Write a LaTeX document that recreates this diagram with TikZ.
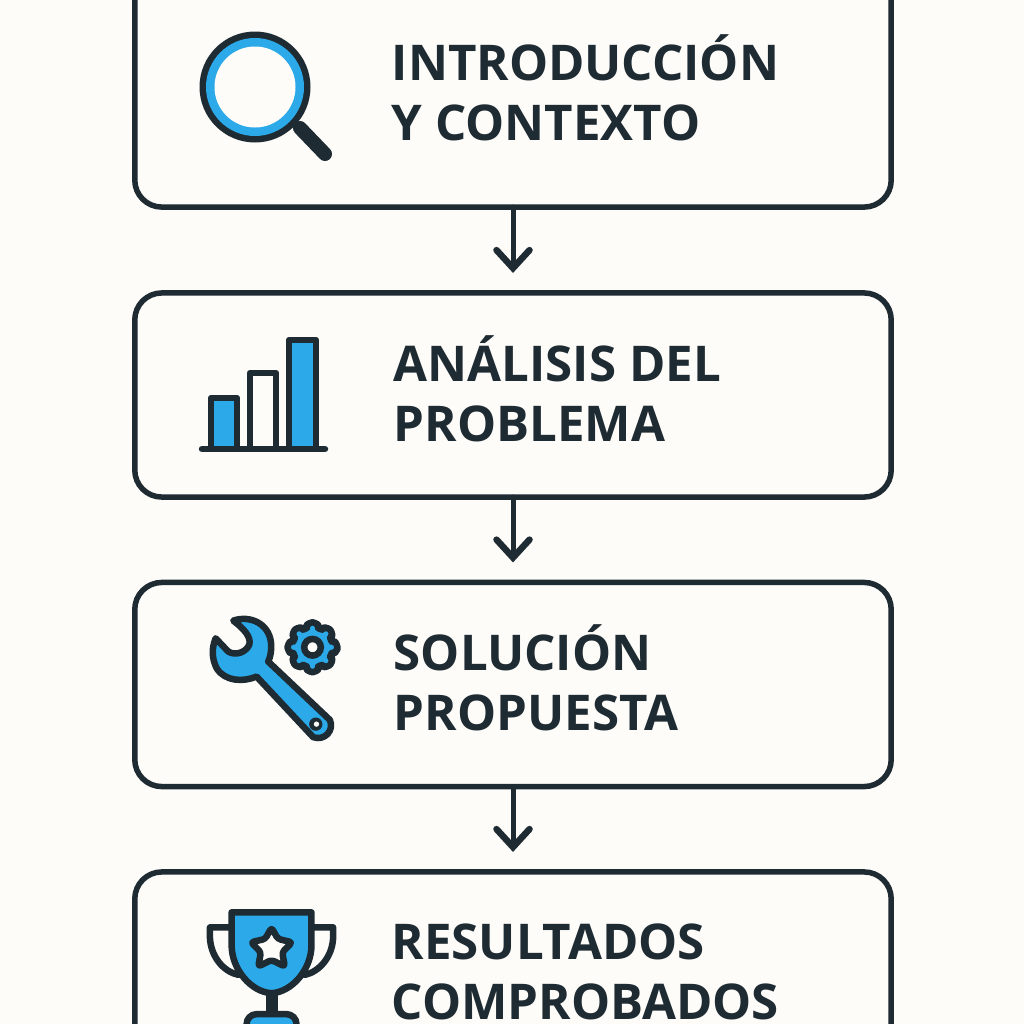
\documentclass[tikz,border=0pt]{standalone}
\usepackage{fontspec}
\setmainfont{Open Sans}
\usetikzlibrary{arrows.meta}
\definecolor{ink}{HTML}{1F2B33}
\definecolor{sky}{HTML}{2BA9E9}
\definecolor{paper}{HTML}{FDFCF9}
\tikzset{
  panel/.style={draw=ink,line width=0.055cm,rounded corners=0.27cm,minimum width=7.56cm,minimum height=2.04cm,inner sep=0pt,outer sep=0pt},
  tallpanel/.style={panel,minimum height=2.5cm},
  flow/.style={draw=ink,line width=0.05cm,line cap=round,shorten >=0.2cm,-{Straight Barb[length=0.18cm,width=0.33cm,line cap=round,line width=0.065cm]}},
  title/.style={anchor=west,align=left,inner sep=0pt,text=ink,font=\fontsize{14}{17.2}\selectfont\bfseries},
  icon/.style={draw=ink,line width=0.065cm,line join=round,line cap=round},
}
\begin{document}
\begin{tikzpicture}[x=0.01cm,y=-0.01cm]
\useasboundingbox (0,0) rectangle (1024,1024);
\fill[paper] (0,0) rectangle (1024,1024);
\clip (0,0) rectangle (1024,1024);
% panels
\node[tallpanel] (b1) at (513,82) {};
\node[panel] (b2) at (513,395) {};
\node[panel] (b3) at (513,684.5) {};
\node[tallpanel] (b4) at (513,997) {};
\draw[flow] (b1.south) -- (b2.north);
\draw[flow] (b2.south) -- (b3.north);
\draw[flow] (b3.south) -- (b4.north);
% texts
\node[title] (t1) at (391,88) {INTRODUCCIÓN\\Y CONTEXTO};
\node[title] (t2) at (393,389) {ANÁLISIS DEL\\PROBLEMA};
\node[title] (t3) at (393,678) {SOLUCIÓN\\PROPUESTA};
\node[title] (t4) at (391,972) {RESULTADOS\\COMPROBADOS};
% magnifier
\draw[ink,line width=0.14cm,line cap=round] (300,128) -- (325,154);
\fill[ink] (255,87) circle (55.5);
\fill[sky] (255,87) circle (49);
\fill[paper] (255,87) circle (40.5);
% bars
\draw[icon,fill=sky,line cap=butt] (211,448) -- (211,398) -- (237,398) -- (237,448);
\draw[icon,fill=paper,line cap=butt] (250,448) -- (250,373) -- (276,373) -- (276,448);
\draw[icon,fill=sky,line cap=butt] (289,448) -- (289,340) -- (316,340) -- (316,448);
\draw[icon] (202,449) -- (325,449);
% wrench
\begin{scope}[shift={(200,605)},x=0.00333cm,y=-0.00333cm]
\draw[icon,fill=sky] (100,47) .. controls (150,30) and (205,55) .. (213,110)
  .. controls (216,135) and (212,155) .. (205,170) -- (390,345)
  .. controls (405,375) and (375,410) .. (340,397) -- (170,215)
  .. controls (130,232) and (75,230) .. (50,190)
  .. controls (35,160) and (35,130) .. (47,100)
  -- (85,140) .. controls (105,152) and (135,145) .. (148,120)
  .. controls (155,95) and (130,70) .. (100,47) -- cycle;
\fill[ink] (348,358) circle (20);
\fill[paper] (350,358) circle (8);
% gear
\draw[icon,fill=sky,rounded corners=0.04cm] ({338+76*cos(-11)},{127-76*sin(-11)})
  \foreach \a in {0,45,...,315}{ -- ({338+76*cos(\a-11)},{127-76*sin(\a-11)}) -- ({338+76*cos(\a+11)},{127-76*sin(\a+11)}) -- ({338+60*cos(\a+17)},{127-60*sin(\a+17)}) -- ({338+60*cos(\a+28)},{127-60*sin(\a+28)}) } -- cycle;
\draw[ink,fill=paper,line width=0.065cm] (338,127) circle (25);
\end{scope}
% trophy
\begin{scope}[shift={(195,895)},x=0.00333cm,y=-0.00333cm]
\draw[icon,fill=paper] (110,97) -- (45,97) -- (45,130) .. controls (48,185) and (85,230) .. (130,240);
\draw[icon,fill=paper] (350,97) -- (415,97) -- (415,130) .. controls (412,185) and (375,230) .. (330,240);
\draw[icon,fill=sky] (222,290) rectangle (240,355);
\draw[icon,fill=sky,rounded corners=0.1cm] (155,420) -- (155,358) -- (305,358) -- (305,420) -- cycle;
\draw[icon,fill=sky] (110,52) -- (350,52) -- (350,150) .. controls (350,225) and (290,292) .. (230,295) .. controls (170,292) and (110,225) .. (110,150) -- cycle;
\draw[icon,fill=paper,rounded corners=0.03cm] (230,98) -- (249,132) -- (292,142) -- (262,172) -- (270,215) -- (230,195) -- (190,215) -- (198,172) -- (168,142) -- (211,132) -- cycle;
\end{scope}
\end{tikzpicture}
\end{document}
